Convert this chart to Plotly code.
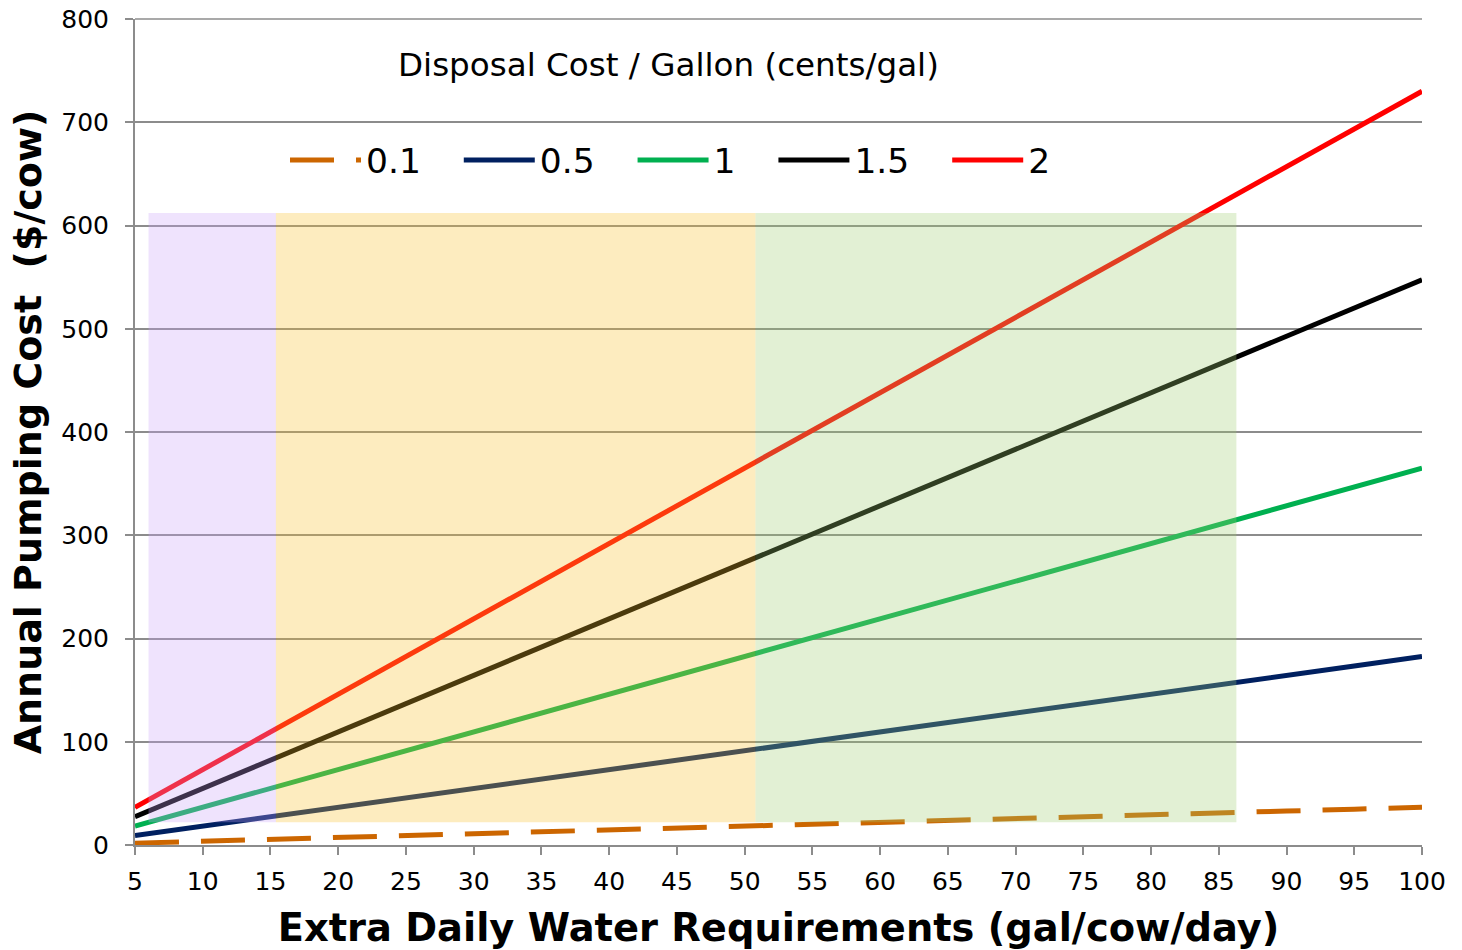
import plotly.graph_objects as go

# Data
water_gal = [5, 10, 15, 20, 25, 30, 35, 40, 45, 50, 55, 60, 65, 70, 75, 80, 85, 90, 95, 100]
series_names = ["0.1", "0.5", "1", "1.5", "2"]
cost_01 = [1.8, 3.7, 5.5, 7.3, 9.1, 11.0, 12.8, 14.6, 16.4, 18.3, 20.1, 21.9, 23.7, 25.6, 27.4, 29.2, 31.0, 32.9, 34.7, 36.5]
cost_05 = [9.1, 18.3, 27.4, 36.5, 45.6, 54.8, 63.9, 73.0, 82.1, 91.3, 100.4, 109.5, 118.6, 127.8, 136.9, 146.0, 155.1, 164.3, 173.4, 182.5]
cost_1 = [18.3, 36.5, 54.8, 73.0, 91.3, 109.5, 127.8, 146.0, 164.3, 182.5, 200.8, 219.0, 237.3, 255.5, 273.8, 292.0, 310.3, 328.5, 346.8, 365.0]
cost_15 = [27.4, 54.8, 82.1, 109.5, 136.9, 164.3, 191.6, 219.0, 246.4, 273.8, 301.1, 328.5, 355.9, 383.3, 410.6, 438.0, 465.4, 492.8, 520.1, 547.5]
cost_2 = [36.5, 73.0, 109.5, 146.0, 182.5, 219.0, 255.5, 292.0, 328.5, 365.0, 401.5, 438.0, 474.5, 511.0, 547.5, 584.0, 620.5, 657.0, 693.5, 730.0]

# Shaded zones: (x start, x end), y bottom / top
zone_x0 = [6.0, 15.4, 50.8]
zone_x1 = [15.4, 50.8, 86.3]
zone_y0 = 22
zone_y1 = 612
zone_colors = ["rgb(202,162,248)", "rgb(248,192,42)", "rgb(158,205,112)"]

colors = ["#CC6600", "#002060", "#00B050", "#000000", "#FF0000"]
all_costs = [cost_01, cost_05, cost_1, cost_15, cost_2]

PAD = "\u00a0" * 3
GRID = "#8c8c8c"

fig = go.Figure()
for name, ys, c in zip(series_names, all_costs, colors):
    fig.add_trace(go.Scatter(
        x=water_gal, y=ys, name=name + PAD, mode="lines",
        line=dict(color=c, width=5, dash="44px,22px" if name == "0.1" else "solid"),
    ))

for x0, x1, c in zip(zone_x0, zone_x1, zone_colors):
    fig.add_shape(type="rect", xref="x", yref="y", x0=x0, x1=x1, y0=zone_y0, y1=zone_y1,
                  fillcolor=c, opacity=0.3, line=dict(width=0), layer="above")

# top gridline (plotly drops the gridline sitting on the plot edge)
fig.add_shape(type="line", xref="paper", yref="paper", x0=0, x1=1, y0=1, y1=1,
              line=dict(color=GRID, width=1.5), layer="below")

W, H = 1462, 950
L, R, T, B = 135, 40, 19, 105
PW, PH = W - L - R, H - T - B


def px(p):
    return (p - L) / PW


def py(p):
    return (H - B - p) / PH


fig.add_annotation(text="Disposal Cost / Gallon (cents/gal)", xref="paper", yref="paper",
                   x=px(668), y=py(65), xanchor="center", yanchor="middle", showarrow=False,
                   font=dict(family="DejaVu Sans", size=32.6, color="#000000"))

fig.update_layout(
    width=W, height=H,
    margin=dict(l=L, r=R, t=T, b=B, autoexpand=False),
    plot_bgcolor="white", paper_bgcolor="white",
    font=dict(family="DejaVu Sans", color="#000000"),
    showlegend=True,
    legend=dict(orientation="h", x=px(285), y=py(160),
                xanchor="left", yanchor="middle", bgcolor="rgba(0,0,0,0)",
                font=dict(family="DejaVu Sans", size=34.5, color="#000000"),
                itemwidth=71),
    xaxis=dict(
        range=[5, 100], tickmode="array", tickvals=water_gal, ticktext=[str(v) for v in water_gal],
        showgrid=False, showline=True, linecolor=GRID, linewidth=2,
        ticks="outside", ticklen=8, tickcolor=GRID, tickwidth=2,
        tickfont=dict(family="DejaVu Sans", size=25, color="#000000"), ticklabelstandoff=5,
        ticklabeloverflow="allow",
        title=dict(text="<b>Extra Daily Water Requirements (gal/cow/day)</b>",
                   font=dict(family="DejaVu Sans", size=38.4, color="#000000"), standoff=21),
        zeroline=False, automargin=False,
    ),
    yaxis=dict(
        range=[0, 800], tickmode="linear", tick0=0, dtick=100,
        showgrid=True, gridcolor=GRID, gridwidth=1.5,
        showline=True, linecolor=GRID, linewidth=2,
        ticks="outside", ticklen=8, tickcolor=GRID, tickwidth=2,
        tickfont=dict(family="DejaVu Sans", size=25, color="#000000"), ticklabelstandoff=11,
        ticklabeloverflow="allow",
        title=dict(text="<b>Annual Pumping Cost  ($/cow)</b>",
                   font=dict(family="DejaVu Sans", size=38, color="#000000"), standoff=8),
        zeroline=False, automargin=False,
    ),
)

# the page's default body margin would offset the figure; remove it
fig.write_html("out.html", config={"displayModeBar": False},
               post_script="document.body.style.margin='0';")
